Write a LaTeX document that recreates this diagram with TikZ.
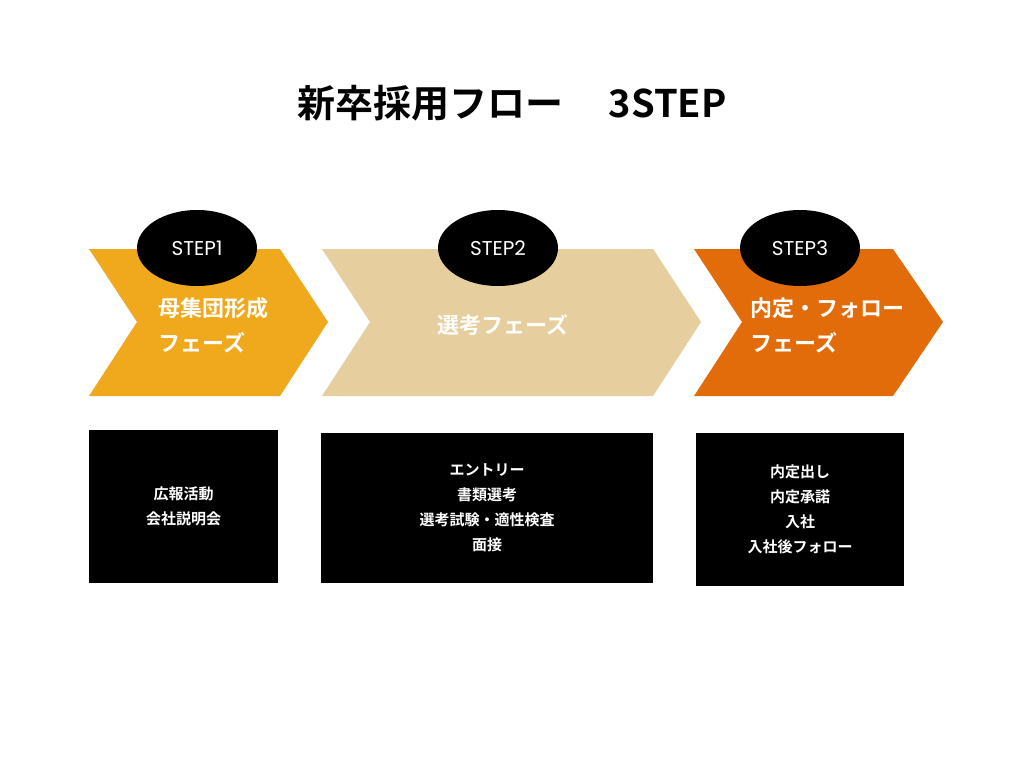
\documentclass[tikz,border=0pt]{standalone}
\usepackage{fontspec}
\newfontfamily\jpfont{Noto Sans CJK JP}[BoldFont={* Bold}]
\newfontfamily\stepfont{Poppins}
\usepackage{tikz}
\usetikzlibrary{positioning,shapes.geometric}
\definecolor{phaseA}{HTML}{F0A81C}
\definecolor{phaseB}{HTML}{E6CE9E}
\definecolor{phaseC}{HTML}{E36C0A}
\tikzset{%
  stepoval/.style = {ellipse, fill=black, minimum width=120pt, minimum height=76pt,%
                     inner sep=0pt, text=white, font=\stepfont\fontsize{20}{24}\selectfont},%
  phase/.style  = {text=white, align=left, inner sep=0pt,%
                   font=\jpfont\bfseries\fontsize{22}{35}\selectfont},%
  detail/.style = {fill=black, text=white, align=center, inner sep=0pt,%
                   font=\jpfont\bfseries\fontsize{15}{25}\selectfont}%
}
\begin{document}
\begin{tikzpicture}[x=1pt, y=-1pt]
  \useasboundingbox (0,0) rectangle (1024,768);
  \fill[white] (0,0) rectangle (1024,768);
  \node (title) at (512,103) {\jpfont\bfseries\fontsize{38}{44}\selectfont 新卒採用フロー\hspace{1.2em}3STEP};
  % chevrons
  \fill[phaseA] (89,249) -- (280,249) -- (328,322) -- (280,396) -- (89,396) -- (137,322) -- cycle;
  \fill[phaseB] (322,249) -- (653,249) -- (701,322) -- (653,396) -- (322,396) -- (370,322) -- cycle;
  \fill[phaseC] (694,249) -- (893,249) -- (943,322) -- (893,396) -- (694,396) -- (742,322) -- cycle;
  % step ovals
  \node[stepoval] (s1) at (197,248) {STEP1};
  \node[stepoval] (s2) at (498,248) {STEP2};
  \node[stepoval] (s3) at (800,248) {STEP3};
  % phase names
  \node[phase, anchor=west] (p1) at (158,325) {母集団形成\\フェーズ};
  \node[phase] (p2) at (503,325) {選考フェーズ};
  \node[phase, anchor=west] (p3) at (750,325) {内定・フォロー\\フェーズ};
  % details
  \node[detail, minimum width=189pt, minimum height=153pt] (d1) at (183.5,506.5) {広報活動\\会社説明会};
  \node[detail, minimum width=332pt, minimum height=150pt] (d2) at (487,508) {エントリー\\書類選考\\選考試験・適性検査\\面接};
  \node[detail, minimum width=208pt, minimum height=153pt] (d3) at (800,509.5) {内定出し\\内定承諾\\入社\\入社後フォロー};
\end{tikzpicture}
\end{document}
